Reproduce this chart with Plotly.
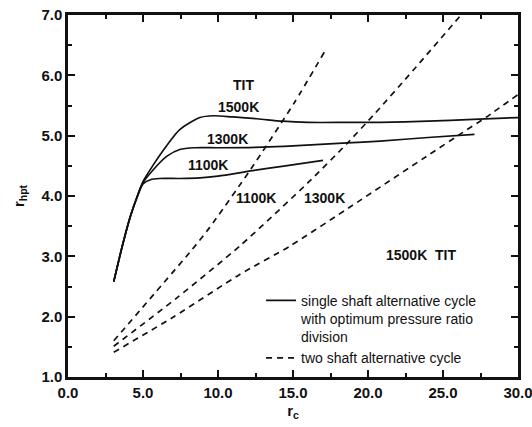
import plotly.graph_objects as go

# ---- data ----
rc_1500 = [3.05, 3.6, 4.13, 4.6, 5.0, 5.7, 6.6, 7.45, 8.8, 9.7, 11.0, 12.6, 14.3, 16.0, 18.8, 20.8, 24.0, 27.0, 30.0]
r_1500 = [2.58, 3.15, 3.64, 3.98, 4.24, 4.52, 4.84, 5.10, 5.30, 5.33, 5.31, 5.28, 5.24, 5.22, 5.22, 5.22, 5.24, 5.27, 5.30]

rc_1300 = [3.05, 3.6, 4.13, 4.6, 5.0, 5.7, 6.6, 7.45, 8.5, 10.0, 13.0, 15.0, 18.6, 20.8, 24.0, 27.1]
r_1300 = [2.58, 3.15, 3.64, 3.98, 4.22, 4.44, 4.66, 4.77, 4.80, 4.80, 4.81, 4.83, 4.88, 4.91, 4.97, 5.02]

rc_1100 = [3.05, 3.6, 4.13, 4.6, 5.0, 5.5, 6.1, 7.45, 8.8, 10.0, 12.3, 14.5, 17.0]
r_1100 = [2.58, 3.15, 3.64, 3.98, 4.20, 4.27, 4.29, 4.29, 4.30, 4.33, 4.42, 4.50, 4.59]

rc_d1100 = [3.05, 8.3, 9.45, 12.2, 15.1, 17.1]
r_d1100 = [1.60, 3.12, 3.48, 4.45, 5.55, 6.39]

rc_d1300 = [3.05, 7.2, 11.45, 16.0, 18.6, 20.4, 23.0, 26.2]
r_d1300 = [1.51, 2.30, 3.17, 4.22, 4.87, 5.35, 6.08, 7.00]

rc_d1500 = [3.05, 7.0, 11.45, 14.8, 19.0, 24.1, 26.3, 27.9, 30.0]
r_d1500 = [1.41, 1.99, 2.70, 3.17, 3.85, 4.69, 5.05, 5.31, 5.68]

x_ticks = [0, 5, 10, 15, 20, 25, 30]
x_tick_text = ["0.0", "5.0", "10.0", "15.0", "20.0", "25.0", "30.0"]
y_ticks = [1, 2, 3, 4, 5, 6, 7]
y_tick_text = ["1.0", "2.0", "3.0", "4.0", "5.0", "6.0", "7.0"]

labels = [
    ("TIT", 11.7, 5.84),
    ("1500K", 11.35, 5.47),
    ("1300K", 10.6, 4.95),
    ("1100K", 9.3, 4.52),
    ("1100K", 12.5, 3.96),
    ("1300K", 17.1, 3.96),
    ("1500K  TIT", 23.5, 3.03),
]

legend_solid = "single shaft alternative cycle<br>with optimum pressure ratio<br>division"
legend_dash = "two shaft alternative cycle"

FONT = "Liberation Sans, Arial, sans-serif"
BLACK = "#111111"

fig = go.Figure()
solid = dict(color=BLACK, width=1.7, shape="spline", smoothing=0.8)
dashed = dict(color=BLACK, width=1.7, dash="6px,5px", shape="spline", smoothing=0.6)

fig.add_trace(go.Scatter(x=rc_1500, y=r_1500, mode="lines", line=solid, name=legend_solid, showlegend=True, legendrank=1))
fig.add_trace(go.Scatter(x=rc_1300, y=r_1300, mode="lines", line=solid, showlegend=False))
fig.add_trace(go.Scatter(x=rc_1100, y=r_1100, mode="lines", line=solid, showlegend=False))
fig.add_trace(go.Scatter(x=rc_d1100, y=r_d1100, mode="lines", line=dashed, name=legend_dash, showlegend=True, legendrank=2))
fig.add_trace(go.Scatter(x=rc_d1300, y=r_d1300, mode="lines", line=dashed, showlegend=False))
fig.add_trace(go.Scatter(x=rc_d1500, y=r_d1500, mode="lines", line=dashed, showlegend=False))

for txt, x, y in labels:
    fig.add_annotation(x=x, y=y, text="<b>" + txt + "</b>", showarrow=False,
                       font=dict(family=FONT, size=14, color=BLACK))

axis_common = dict(
    showline=True, linecolor=BLACK, linewidth=2.5, mirror="ticks",
    ticks="inside", ticklen=7, tickwidth=2, tickcolor=BLACK,
    showgrid=False, zeroline=False, ticklabeloverflow="allow",
    tickfont=dict(family=FONT, size=15, color=BLACK),
)

fig.update_xaxes(range=[0, 30], tickvals=x_ticks, ticktext=["<b>" + t + "</b>" for t in x_tick_text],
                 minor=dict(ticks="inside", ticklen=4, tickwidth=2, tickcolor=BLACK, dtick=2.5),
                 title=dict(text="<b>r<sub>c</sub></b>", font=dict(family=FONT, size=15, color=BLACK), standoff=6),
                 **axis_common)
fig.update_yaxes(range=[1, 7], tickvals=y_ticks, ticktext=["<b>" + t + "</b>" for t in y_tick_text],
                 minor=dict(ticks="inside", ticklen=4, tickwidth=2, tickcolor=BLACK, dtick=0.5),
                 title=dict(text="<b>r<sub>hpt</sub></b>", font=dict(family=FONT, size=15, color=BLACK), standoff=14),
                 **axis_common)

fig.update_layout(
    width=532, height=427,
    margin=dict(l=68, r=14, t=15, b=50, autoexpand=False),
    plot_bgcolor="white", paper_bgcolor="white",
    legend=dict(x=0.429, y=0.255, xanchor="left", yanchor="top", bgcolor="rgba(0,0,0,0)",
                font=dict(family=FONT, size=14, color=BLACK), valign="top",
                tracegroupgap=0, itemwidth=30),
)

fig.write_html("out.html")
